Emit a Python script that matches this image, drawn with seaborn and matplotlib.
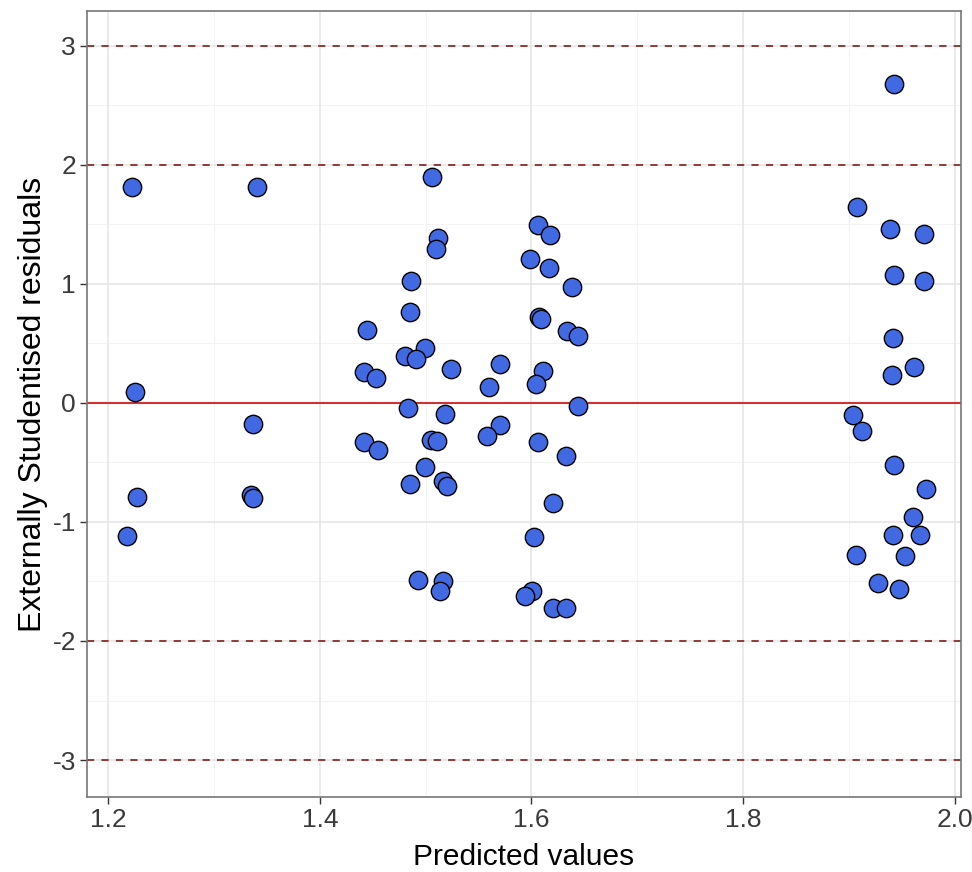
import numpy as np
import pandas as pd
import matplotlib
matplotlib.use("Agg")
import matplotlib.pyplot as plt
import seaborn as sns

predicted = [1.223, 1.341, 1.225, 1.337, 1.227, 1.335, 1.337, 1.218,
             1.506, 1.512, 1.510, 1.486, 1.485, 1.445, 1.499, 1.481, 1.491, 1.524,
             1.442, 1.453, 1.483, 1.518, 1.442, 1.455, 1.505, 1.511, 1.499, 1.485,
             1.516, 1.520, 1.493, 1.516, 1.514,
             1.570, 1.560, 1.570, 1.558,
             1.606, 1.618, 1.599, 1.617, 1.638, 1.607, 1.609, 1.634, 1.644, 1.611,
             1.604, 1.644, 1.606, 1.633, 1.620, 1.602, 1.601, 1.594, 1.620, 1.633,
             1.943, 1.908, 1.939, 1.971, 1.943, 1.971, 1.942, 1.962, 1.941, 1.904,
             1.912, 1.943, 1.973, 1.961, 1.942, 1.967, 1.907, 1.953, 1.928, 1.947]
residuals = [1.81, 1.81, 0.09, -0.18, -0.79, -0.77, -0.80, -1.12,
             1.90, 1.38, 1.29, 1.02, 0.76, 0.61, 0.46, 0.39, 0.37, 0.28,
             0.26, 0.21, -0.045, -0.09, -0.33, -0.40, -0.31, -0.32, -0.54, -0.68,
             -0.66, -0.70, -1.49, -1.50, -1.58,
             0.33, 0.13, -0.19, -0.28,
             1.49, 1.41, 1.21, 1.13, 0.97, 0.72, 0.70, 0.60, 0.56, 0.27,
             0.16, -0.03, -0.33, -0.45, -0.84, -1.13, -1.58, -1.62, -1.72, -1.72,
             2.68, 1.64, 1.46, 1.42, 1.075, 1.02, 0.54, 0.30, 0.23, -0.10,
             -0.24, -0.52, -0.72, -0.955, -1.11, -1.11, -1.28, -1.29, -1.51, -1.56]
dashed_levels = [-3, -2, 2, 3]
x_ticks = [1.2, 1.4, 1.6, 1.8, 2.0]
x_tick_labels = ["1.2", "1.4", "1.6", "1.8", "2.0"]
y_ticks = [-3, -2, -1, 0, 1, 2, 3]
y_tick_labels = ["-3", "-2", "-1", "0", "1", "2", "3"]

df = pd.DataFrame({"pred": predicted, "res": residuals})

sns.set_theme(style="white")
plt.rcParams['font.family'] = ['Liberation Sans', 'DejaVu Sans']

fig = plt.figure(figsize=(9.72, 8.72), dpi=100)
ax = fig.add_axes([87 / 972, 75 / 872, (961 - 87) / 972, (797 - 11) / 872])
ax.set_facecolor("white")

# grid
for v in [1.3, 1.5, 1.7, 1.9]:
    ax.axvline(v, color="#F3F3F3", lw=0.8, zorder=0)
for v in [-2.5, -1.5, -0.5, 0.5, 1.5, 2.5]:
    ax.axhline(v, color="#F3F3F3", lw=0.8, zorder=0)
for v in x_ticks:
    ax.axvline(v, color="#E6E6E6", lw=1.2, zorder=0)
for v in y_ticks:
    ax.axhline(v, color="#E6E6E6", lw=1.2, zorder=0)

for lv in dashed_levels:
    ax.axhline(lv, color="#8B2B2B", lw=1.3, ls=(0, (4, 4)), zorder=1)
ax.axhline(0, color="#CD3333", lw=1.5, zorder=1)

sns.scatterplot(data=df, x="pred", y="res", ax=ax, s=175, color="#4169E1",
                edgecolor="black", linewidth=1.0, zorder=3, legend=False)

ax.set_xlim(1.180, 2.006)
ax.set_ylim(-3.31, 3.29)
ax.set_xticks(x_ticks)
ax.set_xticklabels(x_tick_labels)
ax.set_yticks(y_ticks)
ax.set_yticklabels(y_tick_labels)
ax.tick_params(axis="both", which="major", length=5, width=1.0, color="#333333",
               labelcolor="#3A3A3A", labelsize=19, direction="out", pad=3,
               bottom=True, left=True)
ax.set_xlabel("Predicted values", fontsize=21.5, color="black", labelpad=8)
ax.set_ylabel("Externally Studentised residuals", fontsize=23, color="black", labelpad=3)
for sp in ax.spines.values():
    sp.set_color("#777777")
    sp.set_linewidth(1.2)
    sp.set_visible(True)

fig.savefig("out.png", dpi=100, facecolor="white")
